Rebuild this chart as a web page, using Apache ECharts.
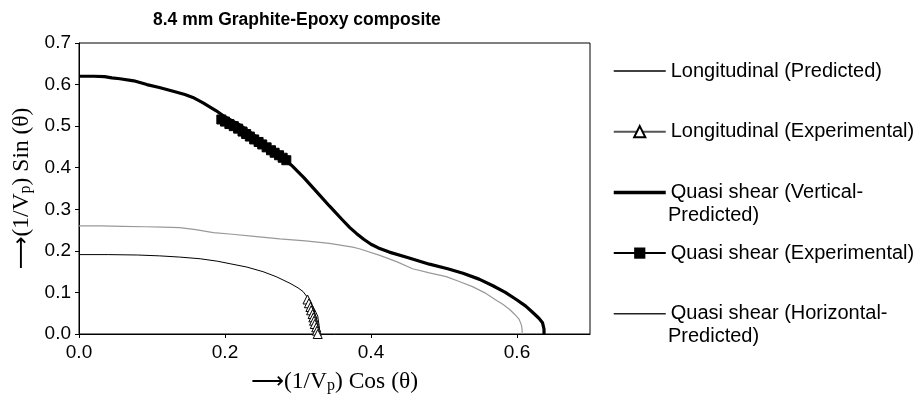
<!DOCTYPE html>
<html>
<head>
<meta charset="utf-8">
<script src="https://cdn.jsdelivr.net/npm/echarts@6/dist/echarts.min.js"></script>
<style>html,body{margin:0;padding:0;background:#fff}#chart{width:914px;height:399px}</style>
</head>
<body>
<div id="chart"></div>
<script>
const titleText = '8.4 mm Graphite-Epoxy composite';
const xTicks = [0, 0.2, 0.4, 0.6];
const yTicks = [0, 0.1, 0.2, 0.3, 0.4, 0.5, 0.6, 0.7];
const seriesNames = [
  'Longitudinal (Predicted)',
  'Longitudinal (Experimental)',
  'Quasi shear (Vertical-Predicted)',
  'Quasi shear (Experimental)',
  'Quasi shear (Horizontal-Predicted)'
];
const legendLine1 = ['Longitudinal (Predicted)', 'Longitudinal (Experimental)', 'Quasi shear (Vertical-', 'Quasi shear (Experimental)', 'Quasi shear (Horizontal-'];
const legendLine2 = ['', '', 'Predicted)', '', 'Predicted)'];

const longitudinalPredicted = [[0,0.191],[0.04,0.191],[0.08,0.19],[0.11,0.188],[0.138,0.185],[0.166,0.181],[0.19,0.175],[0.207,0.169],[0.23,0.161],[0.252,0.15],[0.27,0.138],[0.289,0.122],[0.3,0.111],[0.307,0.102],[0.313,0.088],[0.318,0.074],[0.323,0.058],[0.327,0.043],[0.329,0.02],[0.33,0]];
const longitudinalExperimental = [[0.313,0.083],[0.315,0.074],[0.317,0.065],[0.318,0.057],[0.32,0.048],[0.321,0.04],[0.322,0.032],[0.323,0.024],[0.325,0.016],[0.326,0.008],[0.327,0.0]];
const quasiVertical = [[0,0.62],[0.02,0.62],[0.035,0.619],[0.045,0.616],[0.056,0.614],[0.075,0.609],[0.093,0.6],[0.11,0.593],[0.129,0.584],[0.145,0.576],[0.156,0.569],[0.17,0.556],[0.188,0.537],[0.2,0.522],[0.22,0.503],[0.24,0.478],[0.26,0.45],[0.275,0.428],[0.291,0.406],[0.308,0.376],[0.325,0.343],[0.343,0.308],[0.36,0.276],[0.371,0.256],[0.38,0.242],[0.39,0.228],[0.4,0.216],[0.41,0.207],[0.425,0.197],[0.45,0.184],[0.48,0.168],[0.505,0.157],[0.526,0.146],[0.548,0.132],[0.567,0.116],[0.584,0.1],[0.599,0.083],[0.612,0.067],[0.622,0.051],[0.63,0.038],[0.635,0.027],[0.637,0.012],[0.637,0]];
const quasiExperimental = [[0.195,0.516],[0.2,0.511],[0.206,0.505],[0.212,0.5],[0.218,0.494],[0.224,0.487],[0.229,0.481],[0.234,0.475],[0.24,0.468],[0.246,0.462],[0.251,0.456],[0.257,0.449],[0.263,0.442],[0.268,0.436],[0.274,0.43],[0.279,0.424],[0.284,0.418]];
const quasiHorizontal = [[0,0.26],[0.03,0.26],[0.06,0.259],[0.09,0.258],[0.115,0.257],[0.138,0.256],[0.16,0.251],[0.184,0.244],[0.21,0.24],[0.24,0.235],[0.275,0.229],[0.31,0.224],[0.343,0.218],[0.375,0.209],[0.384,0.205],[0.412,0.189],[0.435,0.174],[0.457,0.157],[0.48,0.147],[0.503,0.138],[0.52,0.127],[0.539,0.114],[0.556,0.099],[0.571,0.082],[0.581,0.071],[0.59,0.059],[0.597,0.047],[0.603,0.035],[0.606,0.022],[0.607,0.011],[0.607,0]];

const sans = '"Liberation Sans", Arial, sans-serif';
const serif = '"Liberation Serif", "Times New Roman", serif';
const nameRich = {
  t: {fontFamily: serif, fontSize: 23.5, color: '#000'},
  sub: {fontFamily: serif, fontSize: 16, color: '#000', verticalAlign: 'bottom', padding: [8, 0, 0, 0]},
  arr: {fontFamily: '"DejaVu Sans"', fontSize: 23, color: '#000'}
};
const hiddenSymbol = {color: 'rgba(0,0,0,0)', borderColor: 'rgba(0,0,0,0)', borderWidth: 0, opacity: 0};

const chart = echarts.init(document.getElementById('chart'), null, {renderer: 'canvas'});
const option = {
  animation: false,
  backgroundColor: '#fff',
  title: {
    text: titleText, left: 153, top: 11, padding: 0,
    textStyle: {fontFamily: sans, fontSize: 17.5, fontWeight: 'bold', color: '#000'}
  },
  grid: {left: 79, right: 324, top: 43, bottom: 61, show: true, borderColor: '#000', borderWidth: 1, backgroundColor: 'transparent'},
  xAxis: {
    type: 'value', min: 0, max: 0.7,
    axisLine: {show: true, onZero: false, lineStyle: {color: '#000', width: 1}},
    axisTick: {show: true, inside: false, length: 4, customValues: xTicks, lineStyle: {color: '#000'}},
    axisLabel: {customValues: xTicks, formatter: v => Number(v).toFixed(1), fontFamily: sans, fontSize: 19, color: '#000', margin: 9},
    splitLine: {show: false},
    name: '{arr|⟶}{t|(1/V}{sub|p}{t|) Cos (θ)}',
    nameLocation: 'middle', nameGap: 36,
    nameTextStyle: {rich: nameRich}
  },
  yAxis: {
    type: 'value', min: 0, max: 0.7, interval: 0.1,
    axisLine: {show: true, onZero: false, lineStyle: {color: '#000', width: 1}},
    axisTick: {show: true, inside: false, length: 4, customValues: yTicks, lineStyle: {color: '#000'}},
    axisLabel: {customValues: yTicks, formatter: v => Number(v).toFixed(1), fontFamily: sans, fontSize: 19, color: '#000', margin: 8},
    splitLine: {show: false},
    name: '{arr|⟶}{t|(1/V}{sub|p}{t|) Sin (θ)}',
    nameLocation: 'middle', nameGap: 42, nameRotate: 90,
    nameTextStyle: {rich: nameRich}
  },
  legend: {
    orient: 'vertical', left: 612, top: 61, padding: 0,
    itemWidth: 52, itemHeight: 14, itemGap: 40.7,
    selectedMode: false,
    textStyle: {fontFamily: sans, fontSize: 20, color: '#000'},
    formatter: name => legendLine1[seriesNames.indexOf(name)],
    data: [
      {name: seriesNames[0], itemStyle: hiddenSymbol, lineStyle: {color: '#000', width: 1.4}},
      {name: seriesNames[1]},
      {name: seriesNames[2], itemStyle: hiddenSymbol, lineStyle: {color: '#000', width: 3.5}},
      {name: seriesNames[3]},
      {name: seriesNames[4], itemStyle: hiddenSymbol, lineStyle: {color: '#222', width: 1.4}}
    ]
  },
  graphic: [
    {type: 'text', x: 668, y: 215, style: {text: legendLine2[2], fontFamily: sans, fontSize: 20, fill: '#000', verticalAlign: 'middle'}},
    {type: 'text', x: 668, y: 336, style: {text: legendLine2[4], fontFamily: sans, fontSize: 20, fill: '#000', verticalAlign: 'middle'}}
  ],
  series: [
    {name: seriesNames[0], type: 'line', data: longitudinalPredicted, symbol: 'none', lineStyle: {color: '#000', width: 1}, itemStyle: {color: '#000'}, z: 2},
    {name: seriesNames[1], type: 'line', data: longitudinalExperimental, symbol: 'triangle', symbolSize: 9, showSymbol: true, clip: false,
      lineStyle: {color: '#555', width: 1.5}, itemStyle: {color: '#fff', borderColor: '#000', borderWidth: 1}, z: 4},
    {name: seriesNames[2], type: 'line', data: quasiVertical, symbol: 'none', lineStyle: {color: '#000', width: 3.2}, itemStyle: {color: '#000'}, z: 3},
    {name: seriesNames[3], type: 'line', data: quasiExperimental, symbol: 'rect', symbolSize: 9, showSymbol: true, clip: false,
      lineStyle: {color: '#000', width: 1}, itemStyle: {color: '#000', borderColor: '#000'}, z: 4},
    {name: seriesNames[4], type: 'line', data: quasiHorizontal, symbol: 'none', lineStyle: {color: '#999', width: 1.2}, itemStyle: {color: '#999'}, z: 2}
  ]
};
chart.setOption(option);
</script>
</body>
</html>
